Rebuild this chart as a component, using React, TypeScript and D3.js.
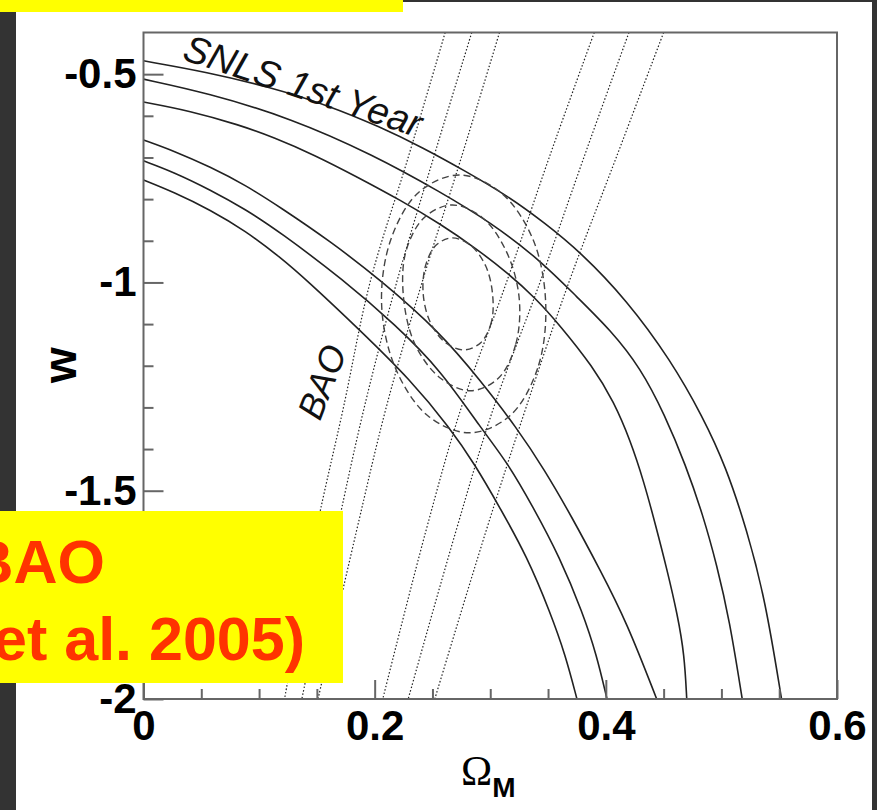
import { useEffect, useRef } from "react"
import * as d3 from "d3"

// SNLS 1st year contours, solid lines, [Omega_M, w]
const snlsOuterHigh = [[0, -0.468], [0.055, -0.495], [0.109, -0.531], [0.159, -0.574], [0.205, -0.627], [0.242, -0.677], [0.278, -0.732], [0.315, -0.792], [0.347, -0.857], [0.378, -0.927], [0.418, -1.042], [0.456, -1.186], [0.484, -1.323], [0.504, -1.443], [0.522, -1.594], [0.538, -1.762], [0.552, -2.0]]
const snlsMidHigh = [[0, -0.512], [0.055, -0.545], [0.127, -0.605], [0.199, -0.694], [0.257, -0.783], [0.300, -0.855], [0.343, -0.946], [0.375, -1.035], [0.404, -1.114], [0.430, -1.205], [0.451, -1.318], [0.469, -1.438], [0.484, -1.558], [0.496, -1.678], [0.507, -1.810], [0.518, -2.0]]
const snlsInnerHigh = [[0, -0.567], [0.040, -0.588], [0.083, -0.622], [0.112, -0.651], [0.148, -0.694], [0.185, -0.747], [0.222, -0.802], [0.257, -0.860], [0.287, -0.917], [0.315, -0.977], [0.339, -1.037], [0.360, -1.102], [0.389, -1.203], [0.407, -1.287], [0.421, -1.378], [0.433, -1.479], [0.443, -1.582], [0.453, -1.690], [0.462, -1.798], [0.468, -1.894], [0.470, -2.0]]
const snlsInnerLow = [[0, -0.658], [0.026, -0.684], [0.058, -0.723], [0.088, -0.766], [0.118, -0.819], [0.161, -0.900], [0.205, -0.994], [0.257, -1.121], [0.291, -1.234], [0.323, -1.349], [0.347, -1.450], [0.371, -1.565], [0.395, -1.690], [0.418, -1.815], [0.444, -2.0]]
const snlsMidLow = [[0, -0.708], [0.026, -0.735], [0.058, -0.778], [0.088, -0.824], [0.118, -0.879], [0.173, -0.994], [0.218, -1.102], [0.257, -1.210], [0.293, -1.354], [0.315, -1.433], [0.337, -1.539], [0.360, -1.659], [0.380, -1.793], [0.392, -1.894], [0.401, -2.0]]
const snlsOuterLow = [[0, -0.754], [0.026, -0.783], [0.058, -0.826], [0.088, -0.876], [0.118, -0.939], [0.141, -0.994], [0.187, -1.114], [0.231, -1.234], [0.265, -1.349], [0.287, -1.438], [0.308, -1.539], [0.332, -1.659], [0.352, -1.793], [0.365, -1.894], [0.375, -2.0]]

// BAO bands, dotted lines
const baoOuterLeft = [[0.261, -0.4], [0.229, -0.7], [0.196, -1.0], [0.173, -1.3], [0.149, -1.6], [0.122, -2.0]]
const baoMidLeft = [[0.284, -0.4], [0.251, -0.7], [0.219, -1.0], [0.191, -1.3], [0.167, -1.6], [0.137, -2.0]]
const baoInnerLeft = [[0.308, -0.4], [0.275, -0.7], [0.241, -1.0], [0.210, -1.3], [0.184, -1.6], [0.151, -2.0]]
const baoInnerRight = [[0.390, -0.4], [0.351, -0.7], [0.314, -1.0], [0.275, -1.3], [0.244, -1.6], [0.207, -2.0]]
const baoMidRight = [[0.420, -0.4], [0.381, -0.7], [0.343, -1.0], [0.303, -1.3], [0.270, -1.6], [0.229, -2.0]]
const baoOuterRight = [[0.450, -0.4], [0.409, -0.7], [0.368, -1.0], [0.331, -1.3], [0.296, -1.6], [0.252, -2.0]]

// combined SNLS+BAO contours, dashed closed curves
const combined68 = [[0.302, -1.028], [0.301, -1.095], [0.292, -1.144], [0.277, -1.162], [0.261, -1.144], [0.248, -1.095], [0.242, -1.028], [0.244, -0.960], [0.253, -0.911], [0.267, -0.893], [0.283, -0.911], [0.296, -0.960]]
const combined95 = [[0.325, -1.037], [0.322, -1.149], [0.307, -1.230], [0.283, -1.260], [0.257, -1.230], [0.235, -1.149], [0.225, -1.037], [0.227, -0.926], [0.243, -0.844], [0.267, -0.814], [0.293, -0.844], [0.314, -0.926]]
const combined99 = [[0.348, -1.052], [0.341, -1.206], [0.317, -1.320], [0.282, -1.361], [0.246, -1.320], [0.218, -1.206], [0.206, -1.052], [0.214, -0.897], [0.238, -0.784], [0.273, -0.742], [0.309, -0.784], [0.337, -0.897]]

const xMajor = [0, 0.2, 0.4, 0.6]
const xMinor = [0.05, 0.1, 0.15, 0.25, 0.3, 0.35, 0.45, 0.5, 0.55]
const yMajor = [-2, -1.5, -1, -0.5]
const yMinor = [-1.9, -1.8, -1.7, -1.6, -1.4, -1.3, -1.2, -1.1, -0.9, -0.8, -0.7, -0.6]

const font = "'Liberation Sans', Arial, Helvetica, sans-serif"

export default function App() {
  const ref = useRef<SVGSVGElement>(null)

  useEffect(() => {
    document.body.style.margin = "0"
    const svg = d3.select(ref.current)
    svg.selectAll("*").remove()

    const W = 877, H = 810
    const left = 143.5, right = 837, top = 32.5, bottom = 699

    // page background, the slide around the figure
    svg.append("rect").attr("width", W).attr("height", H).attr("fill", "#fff")
    svg.append("rect").attr("x", 0).attr("y", 0).attr("width", W).attr("height", 2).attr("fill", "#333")
    svg.append("rect").attr("x", 0).attr("y", 0).attr("width", 16).attr("height", H).attr("fill", "#333")
    svg.append("rect").attr("x", 872).attr("y", 0).attr("width", 5).attr("height", H).attr("fill", "#333")
    svg.append("rect").attr("x", 0).attr("y", 0).attr("width", 403).attr("height", 12).attr("fill", "#ffff00")

    const x = d3.scaleLinear().domain([0, 0.6]).range([left, right])
    const y = d3.scaleLinear().domain([-2, -0.4]).range([bottom, top])

    svg.append("clipPath").attr("id", "plotclip")
      .append("rect").attr("x", left).attr("y", top).attr("width", right - left).attr("height", bottom - top)

    const plot = svg.append("g").attr("clip-path", "url(#plotclip)")

    const smooth = d3.line<number[]>().x(d => x(d[0])).y(d => y(d[1])).curve(d3.curveBasis)
    const line = d3.line<number[]>().x(d => x(d[0])).y(d => y(d[1])).curve(d3.curveCatmullRom)
    const closed = d3.line<number[]>().x(d => x(d[0])).y(d => y(d[1])).curve(d3.curveCatmullRomClosed)

    // BAO
    plot.selectAll(".bao").data([baoOuterLeft, baoMidLeft, baoInnerLeft, baoInnerRight, baoMidRight, baoOuterRight])
      .enter().append("path")
      .attr("d", d => line(d))
      .attr("fill", "none")
      .attr("stroke", "#222")
      .attr("stroke-width", 1.2)
      .attr("stroke-dasharray", "1.5,2")

    // SNLS
    plot.selectAll(".snls").data([snlsOuterHigh, snlsMidHigh, snlsInnerHigh, snlsInnerLow, snlsMidLow, snlsOuterLow])
      .enter().append("path")
      .attr("d", d => smooth(d))
      .attr("fill", "none")
      .attr("stroke", "#222")
      .attr("stroke-width", 1.6)

    // combined
    plot.selectAll(".comb").data([combined68, combined95, combined99])
      .enter().append("path")
      .attr("d", d => closed(d))
      .attr("fill", "none")
      .attr("stroke", "#444")
      .attr("stroke-width", 1.4)
      .attr("stroke-dasharray", "7,4")

    // frame
    svg.append("rect")
      .attr("x", left).attr("y", top).attr("width", right - left).attr("height", bottom - top)
      .attr("fill", "none").attr("stroke", "#666").attr("stroke-width", 2)

    const fmt = (d: any) => String(d)

    // ticks point inward, like ROOT
    const gy = svg.append("g").attr("transform", `translate(${left},0)`)
    gy.call(d3.axisLeft(y).tickValues(yMinor).tickSize(-10).tickFormat(() => ""))
    gy.selectAll(".tick line").attr("stroke", "#666").attr("stroke-width", 2)
    const gy2 = svg.append("g").attr("transform", `translate(${left},0)`)
    gy2.call(d3.axisLeft(y).tickValues(yMajor).tickSize(-20).tickPadding(7).tickFormat(fmt))
    gy2.selectAll(".tick line").attr("stroke", "#666").attr("stroke-width", 2)
    gy2.selectAll("text").attr("font-family", font).attr("font-weight", "bold").attr("font-size", 42).attr("fill", "#000")

    const gx = svg.append("g").attr("transform", `translate(0,${bottom})`)
    gx.call(d3.axisBottom(x).tickValues(xMinor).tickSize(-10).tickFormat(() => ""))
    gx.selectAll(".tick line").attr("stroke", "#666").attr("stroke-width", 2)
    const gx2 = svg.append("g").attr("transform", `translate(0,${bottom})`)
    gx2.call(d3.axisBottom(x).tickValues(xMajor).tickSize(-19).tickPadding(11).tickFormat(fmt))
    gx2.selectAll(".tick line").attr("stroke", "#666").attr("stroke-width", 2)
    gx2.selectAll("text").attr("font-family", font).attr("font-weight", "bold").attr("font-size", 42).attr("fill", "#000")

    svg.selectAll(".domain").remove()

    // axis titles
    svg.append("text")
      .attr("transform", "translate(76,365) rotate(-90)")
      .attr("text-anchor", "middle")
      .attr("font-family", font).attr("font-weight", "bold").attr("font-size", 46)
      .text("w")

    const xt = svg.append("text").attr("x", 461).attr("y", 785)
    xt.append("tspan").attr("font-family", "'Liberation Serif', 'Times New Roman', serif").attr("font-size", 42).text("Ω")
    xt.append("tspan").attr("font-family", font).attr("font-weight", "bold").attr("font-size", 28).attr("dy", 12).text("M")

    // curve labels
    svg.append("text")
      .attr("transform", `translate(${x(0.0324)},${y(-0.4636)}) rotate(18.4)`)
      .attr("font-family", font).attr("font-style", "italic").attr("font-size", 38).attr("fill", "#111")
      .text("SNLS 1st Year")

    svg.append("text")
      .attr("transform", `translate(${x(0.1544)},${y(-1.2387)}) rotate(-69)`)
      .attr("text-anchor", "middle").attr("dominant-baseline", "central")
      .attr("font-family", font).attr("font-style", "italic").attr("font-size", 36).attr("fill", "#111")
      .text("BAO")

    // slide overlay box
    svg.append("rect").attr("x", 0).attr("y", 511).attr("width", 343).attr("height", 172).attr("fill", "#ffff00")
    svg.append("text").attr("x", 105).attr("y", 583).attr("text-anchor", "end")
      .attr("font-family", font).attr("font-weight", "bold").attr("font-size", 61).attr("fill", "#ff3300")
      .text("BAO")
    svg.append("text").attr("x", 305).attr("y", 660).attr("text-anchor", "end")
      .attr("font-family", font).attr("font-weight", "bold").attr("font-size", 61).attr("fill", "#ff3300")
      .text("et al. 2005)")
  }, [])

  return <svg ref={ref} width={877} height={810} style={{ display: "block" }} />
}
